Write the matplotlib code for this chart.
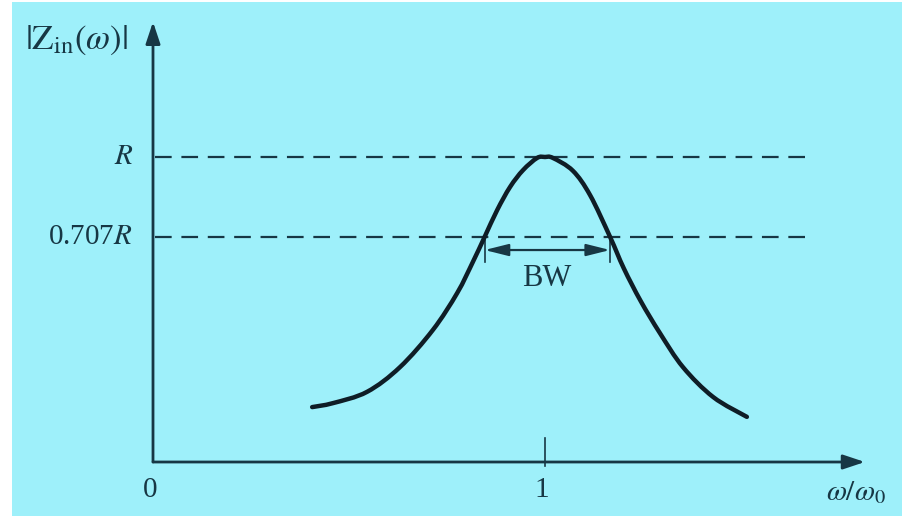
import matplotlib
matplotlib.use("Agg")
import matplotlib.pyplot as plt
from matplotlib.patches import Rectangle, PathPatch
from matplotlib.path import Path

plt.rcParams['mathtext.fontset'] = 'stix'
plt.rcParams['font.family'] = ['Liberation Serif', 'DejaVu Serif']
plt.rcParams['lines.scale_dashes'] = False

# Curve: x = omega/omega0, y = |Zin|/R
curve_x = [0.406, 0.459, 0.546, 0.630, 0.714, 0.776, 0.816, 0.846, 0.878, 0.911,
           0.944, 0.980, 1.000, 1.020, 1.071, 1.115, 1.166, 1.201, 1.244, 1.293,
           1.352, 1.429, 1.515]
curve_y = [0.180, 0.193, 0.230, 0.311, 0.433, 0.554, 0.656, 0.738, 0.826, 0.902,
           0.957, 0.997, 1.000, 0.997, 0.955, 0.875, 0.738, 0.635, 0.528, 0.423,
           0.311, 0.213, 0.148]

level_values = [1.0, 0.738]
level_labels = [r'$R$', r'0.707$R$']
bw_edges = [0.846, 1.166]
xtick_values = [0.0, 1.0]
xtick_labels = ['0', '1']

bg = '#9ef0fa'
axcol = '#173744'
curvecol = '#0f1d26'

fig = plt.figure(figsize=(9.03, 5.16), dpi=100, facecolor='white')
ax = fig.add_axes([0, 0, 1, 1])
ax.set_facecolor('none')
ax.axis('off')
ax.add_patch(Rectangle((12 / 903, 0), 891 / 903, 514 / 516,
                       transform=ax.transAxes, facecolor=bg,
                       edgecolor='none', zorder=-10, clip_on=False))
ax.set_xlim(-153 / 392, 750 / 392)
ax.set_ylim((462 - 516) / 305, 462 / 305)

# axes with arrows
arrow_style = '-|>,head_length=0.6,head_width=0.2'
ax.annotate('', xy=(1.816, 0), xytext=(0, 0),
            arrowprops=dict(arrowstyle=arrow_style, lw=2.0, color=axcol,
                            mutation_scale=22, shrinkA=0, shrinkB=0))
ax.annotate('', xy=(0, 1.443), xytext=(0, 0),
            arrowprops=dict(arrowstyle=arrow_style, lw=2.0, color=axcol,
                            mutation_scale=22, shrinkA=0, shrinkB=0))

# dashed reference levels
for lv, lab in zip(level_values, level_labels):
    ax.plot([0.005, 1.663], [lv, lv], color=axcol, lw=1.6, dashes=(12, 7))
    ax.text(-0.051, lv, lab, ha='right', va='center', fontsize=21, color=axcol)

# curve: smooth Catmull-Rom -> cubic Bezier path through the read points
pts = list(zip(curve_x, curve_y))
verts = [pts[0]]
codes = [Path.MOVETO]
n = len(pts)
for i in range(n - 1):
    p0 = pts[i - 1] if i > 0 else pts[i]
    p1 = pts[i]
    p2 = pts[i + 1]
    p3 = pts[i + 2] if i + 2 < n else pts[i + 1]
    c1 = (p1[0] + (p2[0] - p0[0]) / 6, p1[1] + (p2[1] - p0[1]) / 6)
    c2 = (p2[0] - (p3[0] - p1[0]) / 6, p2[1] - (p3[1] - p1[1]) / 6)
    verts += [c1, c2, p2]
    codes += [Path.CURVE4] * 3
ax.add_patch(PathPatch(Path(verts, codes), facecolor='none', edgecolor=curvecol,
                       lw=3.2, capstyle='round', joinstyle='round', zorder=5))

# BW marker
for e in bw_edges:
    ax.plot([e, e], [0.656, 0.728], color=axcol, lw=1.2)
ax.annotate('', xy=(bw_edges[0], 0.695), xytext=(bw_edges[1], 0.695),
            arrowprops=dict(arrowstyle='<|-|>,head_length=0.8,head_width=0.2',
                            lw=1.6, color=axcol, mutation_scale=18,
                            shrinkA=0, shrinkB=0))
ax.text(1.005, 0.603, 'BW', ha='center', va='center', fontsize=22, color=axcol)

# x ticks
ax.plot([1.0, 1.0], [-0.013, 0.079], color=axcol, lw=1.2)
for xv, xl in zip(xtick_values, xtick_labels):
    ax.text(xv - 0.008, -0.092, xl, ha='center', va='center', fontsize=21, color=axcol)

ax.text(1.793, -0.10, r'$\omega/\omega_0$', ha='center', va='center', fontsize=21, color=axcol)
ax.text(-0.064, 1.384, r'$|\mathrm{Z}_{\mathrm{in}}(\omega)|$', ha='right', va='center',
        fontsize=25, color=axcol)

fig.savefig('out.png', dpi=100, facecolor='white')
